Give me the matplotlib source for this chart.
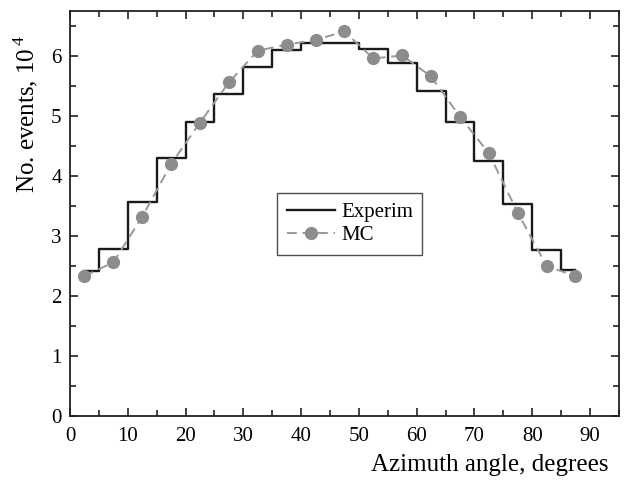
import numpy as np
import matplotlib
matplotlib.use("Agg")
import matplotlib.pyplot as plt
from matplotlib.ticker import MultipleLocator

plt.rcParams['font.family'] = ['Liberation Serif', 'DejaVu Serif']
plt.rcParams['mathtext.fontset'] = 'custom'
plt.rcParams['mathtext.rm'] = 'Liberation Serif'

# bin centres, degrees
angles = [2.5, 7.5, 12.5, 17.5, 22.5, 27.5, 32.5, 37.5, 42.5,
          47.5, 52.5, 57.5, 62.5, 67.5, 72.5, 77.5, 82.5, 87.5]
# events, 10^4
experim = [2.42, 2.78, 3.57, 4.30, 4.90, 5.37, 5.82, 6.10, 6.22,
           6.21, 6.12, 5.88, 5.42, 4.90, 4.25, 3.53, 2.77, 2.43]
mc = [2.33, 2.56, 3.32, 4.20, 4.89, 5.56, 6.09, 6.19, 6.27,
      6.41, 5.96, 6.01, 5.66, 4.99, 4.38, 3.39, 2.50, 2.33]

fig = plt.figure(figsize=(6.36, 4.83), dpi=100)
ax = fig.add_axes([0.110, 0.139, 0.863, 0.838])

ax.plot(angles, experim, color='#1a1a1a', linewidth=1.7, drawstyle='steps-mid',
        label='Experim')
ax.plot(angles, mc, color='#999999', linestyle=(0, (5, 3)), linewidth=1.4,
        marker='o', markersize=8.5, markerfacecolor='#8c8c8c',
        markeredgecolor='#8c8c8c', label='MC')

ax.set_xlim(0, 95)
ax.set_ylim(0, 6.75)
ax.xaxis.set_major_locator(MultipleLocator(10))
ax.xaxis.set_minor_locator(MultipleLocator(5))
ax.yaxis.set_major_locator(MultipleLocator(1))
ax.yaxis.set_minor_locator(MultipleLocator(0.5))
ax.tick_params(which='both', direction='in', top=True, right=True,
               labelsize=15, width=1.2, color='#222222')
ax.tick_params(which='major', length=6)
ax.tick_params(which='minor', length=4)
ax.tick_params(axis='x', pad=8)
ax.tick_params(axis='y', pad=6)
for s in ax.spines.values():
    s.set_linewidth(1.3)
    s.set_color('#222222')

ax.set_xlabel('Azimuth angle, degrees', fontsize=18)
ax.xaxis.set_label_coords(0.765, -0.095)
ax.set_ylabel(r'No. events, 10$^{\,4}$', fontsize=18)
ax.yaxis.set_label_coords(-0.055, 0.745)

leg = ax.legend(loc='center', bbox_to_anchor=(0.51, 0.474), fontsize=15,
                frameon=True, fancybox=False, edgecolor='#222222',
                handlelength=2.3, handletextpad=0.3, borderpad=0.45,
                labelspacing=0.15)
leg.get_frame().set_linewidth(1.0)

fig.savefig('out.png', dpi=100)
